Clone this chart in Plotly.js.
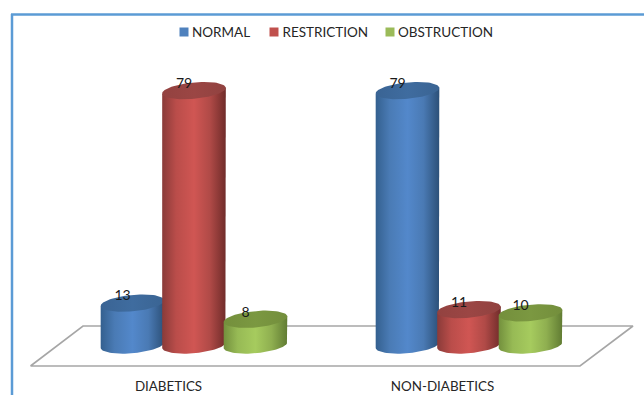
<!DOCTYPE html>
<html>
<head>
<meta charset="utf-8">
<script src="https://cdn.plot.ly/plotly-3.0.1.min.js"></script>
<style>html,body{margin:0;padding:0;background:#fff;overflow:hidden}#chart{width:644px;height:395px}</style>
</head>
<body>
<div id="chart"></div>
<script>
// Lung function pattern by diabetes status, drawn as cylinders on a tilted floor.
const categories = ['DIABETICS', 'NON-DIABETICS'];
const seriesNames = ['NORMAL', 'RESTRICTION', 'OBSTRUCTION'];
const normal = [13, 79];
const restriction = [79, 11];
const obstruction = [8, 10];
const seriesValues = [normal, restriction, obstruction];
const legendColors = ['#4F81BD', '#C0504D', '#9BBB59'];

const bodyShades = [
  ['#34608F', '#4A7BB5', '#5388CB', '#4A7AB4', '#2C5078'],
  ['#8A3B39', '#BA4D4A', '#D05653', '#B04A47', '#702C2A'],
  ['#73903D', '#97BA55', '#A6CB5E', '#8FAF50', '#617C33']
];
const capShades = [
  ['#3A6494', '#3F6C9F', '#3A6493'],
  ['#934240', '#9B4644', '#914240'],
  ['#748F3C', '#7B9841', '#738E3C']
];

// Axis scales: one x unit separates the two groups, y is in percent.
const W = 644, H = 395, M_BOTTOM = 20;
const X_UNIT = 275, X_ORIGIN = 194, Y_UNIT = 3.22, Y_ORIGIN = 345;
const xRange = [-X_ORIGIN / X_UNIT, (W - X_ORIGIN) / X_UNIT];
const yRange = [(Y_ORIGIN - (H - M_BOTTOM)) / Y_UNIT, Y_ORIGIN / Y_UNIT];
const xFromPx = p => (p - X_ORIGIN) / X_UNIT;
const yFromPx = p => (Y_ORIGIN - p) / Y_UNIT;

// Cylinder geometry, in axis units.
const OFFSET = 61.5 / X_UNIT, RX = 31.8 / X_UNIT, RY = 8.2 / Y_UNIT, SHEAR = 2.8 / Y_UNIT;
const LABEL_DX = -10 / X_UNIT, LABEL_DY = 6.2 / Y_UNIT;

function rim(cx, level, from, to, steps) {
  const xs = [], ys = [];
  for (let k = 0; k <= steps; k++) {
    const t = from + (to - from) * k / steps;
    xs.push(cx + RX * Math.cos(t));
    ys.push(level + SHEAR * Math.cos(t) - RY * Math.sin(t));
  }
  return [xs, ys];
}
function scale(shades) {
  const n = shades.length - 1;
  const stops = n === 4 ? [0, 0.22, 0.5, 0.75, 1] : shades.map((_, i) => i / n);
  return shades.map((c, i) => [stops[i], c]);
}

const traces = [];

// Floor
const floorPx = [[30.5, 366], [580, 366], [633, 326], [83, 326], [30.5, 366]];
traces.push({
  x: floorPx.map(p => xFromPx(p[0])), y: floorPx.map(p => yFromPx(p[1])),
  mode: 'lines', line: {color: '#A6A6A6', width: 1.6}, fill: 'none',
  hoverinfo: 'skip', showlegend: false
});

// Cylinders, left to right so each one overlaps its left neighbour
categories.forEach((cat, g) => {
  seriesNames.forEach((name, s) => {
    const v = seriesValues[s][g];
    const cx = g + (s - 1) * OFFSET;
    const bottom = rim(cx, 0, 0, Math.PI, 40);
    const bx = [cx + RX].concat(bottom[0], [cx - RX]);
    const by = [v + SHEAR].concat(bottom[1], [v - SHEAR]);
    traces.push({
      x: bx, y: by, name: name + ' ' + cat, mode: 'lines', line: {width: 0},
      fill: 'toself', fillcolor: legendColors[s],
      fillgradient: {type: 'horizontal', colorscale: scale(bodyShades[s])},
      hoverinfo: 'skip', showlegend: false
    });
    const top = rim(cx, v, 0, 2 * Math.PI, 80);
    traces.push({
      x: top[0], y: top[1], mode: 'lines', line: {width: 0},
      fill: 'toself', fillcolor: capShades[s][1],
      fillgradient: {type: 'horizontal', colorscale: scale(capShades[s])},
      hoverinfo: 'skip', showlegend: false
    });
  });
});

// Value labels
categories.forEach((cat, g) => {
  seriesNames.forEach((name, s) => {
    const v = seriesValues[s][g];
    traces.push({
      x: [g + (s - 1) * OFFSET + LABEL_DX], y: [v + LABEL_DY],
      mode: 'text', text: [String(v)], textposition: 'middle center',
      textfont: {family: 'Lato, Carlito, sans-serif', size: 14, color: '#1a1a1a'},
      cliponaxis: false, hoverinfo: 'skip', showlegend: false
    });
  });
});

// Legend row: swatch and name are placed separately
const legendSwatchPx = [184, 274, 390];
const legendTextPx = [192, 282.5, 398];
seriesNames.forEach((name, s) => {
  traces.push({
    x: [xFromPx(legendSwatchPx[s])], y: [yFromPx(32)],
    mode: 'markers', marker: {symbol: 'square', size: 9, color: legendColors[s]},
    cliponaxis: false, hoverinfo: 'skip', showlegend: false
  });
  traces.push({
    x: [xFromPx(legendTextPx[s])], y: [yFromPx(33.5)],
    mode: 'text', text: [name], textposition: 'middle right',
    textfont: {family: 'Lato, Carlito, sans-serif', size: 13.5, color: '#262626'},
    cliponaxis: false, hoverinfo: 'skip', showlegend: false
  });
});

const frame = {color: '#5B9BD5', width: 2.5};
const layout = {
  width: W, height: H,
  margin: {l: 0, r: 0, t: 0, b: M_BOTTOM, pad: 0},
  paper_bgcolor: '#fff', plot_bgcolor: '#fff',
  showlegend: false,
  xaxis: {
    range: xRange, fixedrange: true, showgrid: false, zeroline: false, showline: false, ticks: '',
    tickmode: 'array', tickvals: [xFromPx(168.5), xFromPx(442.5)], ticktext: categories,
    ticklabelstandoff: 2,
    tickfont: {family: 'Lato, Carlito, sans-serif', size: 13.4, color: '#262626'}
  },
  yaxis: {range: yRange, visible: false, fixedrange: true},
  shapes: [
    {type: 'line', xref: 'paper', yref: 'paper', x0: 12 / W, x1: 12 / W,
     y0: -M_BOTTOM / (H - M_BOTTOM), y1: (H - M_BOTTOM - 14) / (H - M_BOTTOM), line: frame},
    {type: 'line', xref: 'paper', yref: 'paper', x0: 11 / W, x1: 1,
     y0: (H - M_BOTTOM - 14.5) / (H - M_BOTTOM), y1: (H - M_BOTTOM - 14.5) / (H - M_BOTTOM), line: frame}
  ]
};
Plotly.newPlot('chart', traces, layout, {displayModeBar: false, staticPlot: true});
</script>
</body>
</html>
